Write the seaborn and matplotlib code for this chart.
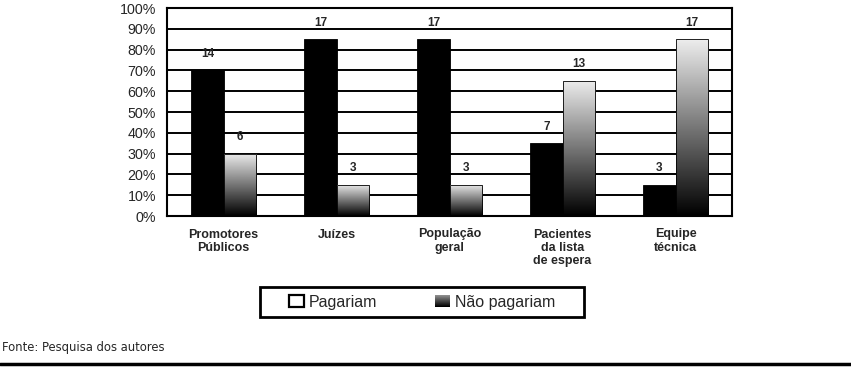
import os
import numpy as np
import pandas as pd
import matplotlib
matplotlib.use("Agg")
import matplotlib.pyplot as plt
import seaborn as sns
from matplotlib import font_manager as fm
from matplotlib.patches import Patch, Rectangle
from matplotlib.legend_handler import HandlerBase
from matplotlib.lines import Line2D

# ------------------------------------------------------------
# DATA
# ------------------------------------------------------------
categories = ["Promotores\nPúblicos", "Juízes", "População\ngeral",
              "Pacientes\nda lista\nde espera", "Equipe\ntécnica"]
pagariam_n = [14, 17, 17, 7, 3]
nao_pagariam_n = [6, 3, 3, 13, 17]
total_n = 20
series = ["Pagariam", "Não pagariam"]
y_ticks = [0, 10, 20, 30, 40, 50, 60, 70, 80, 90, 100]

df = pd.DataFrame({
    "grupo": categories * 2,
    "resposta": [series[0]] * len(categories) + [series[1]] * len(categories),
    "n": pagariam_n + nao_pagariam_n,
})
df["pct"] = df["n"] / total_n * 100


# ------------------------------------------------------------
# FONTS (pick by file so regular/bold/narrow don't get mixed up)
# ------------------------------------------------------------
def font_by_file(names, fallback_family, weight="normal", stretch="normal"):
    files = {os.path.basename(f.fname): f.fname for f in fm.fontManager.ttflist}
    for n in names:
        if n in files:
            return fm.FontProperties(fname=files[n])
    return fm.FontProperties(family=fallback_family, weight=weight,
                             stretch=stretch)


f_reg = font_by_file(["LiberationSans-Regular.ttf"], "DejaVu Sans")
f_bold = font_by_file(["LiberationSans-Bold.ttf"], "DejaVu Sans", "bold")
f_narrow = font_by_file(["LiberationSansNarrow-Regular.ttf",
                         "DejaVuSansCondensed.ttf",
                         "RobotoCondensed-Regular.ttf"],
                        "DejaVu Sans", stretch="condensed")

# ------------------------------------------------------------
# STYLE
# ------------------------------------------------------------
sns.set_style("white")
plt.rcParams["font.family"] = ["Liberation Sans", "DejaVu Sans"]

fig = plt.figure(figsize=(8.51, 3.69), dpi=100)
ax = fig.add_axes([167 / 851, 1 - 216 / 369, 565 / 851, 208 / 369])

sns.barplot(data=df, x="grupo", y="pct", hue="resposta", hue_order=series,
            order=categories, palette={series[0]: "black", series[1]: "white"},
            width=0.57, saturation=1, edgecolor="black", linewidth=0.6,
            legend=False, ax=ax)

# gradient fill for "Não pagariam" bars (light top -> black bottom)
grad = np.linspace(0.93, 0.0, 256)[:, None]
for bar in ax.containers[1]:
    x0, y0 = bar.get_x(), bar.get_y()
    w, h = bar.get_width(), bar.get_height()
    im = ax.imshow(grad, extent=[x0, x0 + w, y0, y0 + h], cmap="gray",
                   vmin=0, vmax=1, aspect="auto", origin="upper",
                   zorder=bar.get_zorder() + 0.1)
    im.set_clip_path(bar)
    bar.set_facecolor("none")
    bar.set_zorder(bar.get_zorder() + 0.2)

# value labels
for cont, counts in zip(ax.containers, [pagariam_n, nao_pagariam_n]):
    labs = ax.bar_label(cont, labels=[str(c) for c in counts], padding=7.5)
    for t in labs:
        t.set_fontproperties(f_bold)
        t.set_fontsize(8.5)

ax.set_xlim(-0.5, len(categories) - 0.5)
ax.set_ylim(0, 100)
ax.set_yticks(y_ticks)
ax.set_yticklabels([f"{v}%" for v in y_ticks])
ax.set_xticks(np.arange(-0.5, len(categories)), minor=True)
ax.tick_params(axis="x", which="major", length=0, pad=9)
ax.tick_params(axis="x", which="minor", length=4, width=1.2, direction="out")
ax.tick_params(axis="y", length=4, width=1.2, direction="out", pad=4)
for lab in ax.get_xticklabels():
    lab.set_fontproperties(f_bold)
    lab.set_fontsize(9)
    lab.set_linespacing(1.15)
for lab in ax.get_yticklabels():
    lab.set_fontproperties(f_reg)
    lab.set_fontsize(10.3)
ax.set_xlabel("")
ax.set_ylabel("")

ax.set_axisbelow(True)
ax.yaxis.grid(True, color="black", linewidth=1.4)
for sp in ax.spines.values():
    sp.set_visible(True)
    sp.set_color("black")
    sp.set_linewidth(1.5)


# legend with gradient swatch
class GradientHandler(HandlerBase):
    def create_artists(self, legend, orig_handle, xdescent, ydescent,
                       width, height, fontsize, trans):
        arts = []
        steps = 12
        for i in range(steps):
            g = 0.55 * (i / (steps - 1))
            arts.append(Rectangle((-xdescent, -ydescent + height * i / steps),
                                  width, height / steps, facecolor=str(g),
                                  edgecolor="none", transform=trans))
        return arts


leg_font = f_reg.copy()
leg_font.set_size(11.5)
h_white = Patch(facecolor="white", edgecolor="black", linewidth=1.6)
h_grad = Patch(facecolor="0.3")
leg = fig.legend([h_white, h_grad], series, loc="center",
                 bbox_to_anchor=(422 / 851, 1 - 302 / 369), ncol=2,
                 frameon=False, handlelength=0.95, handleheight=0.8,
                 handletextpad=0.3, columnspacing=3.6, prop=leg_font,
                 handler_map={h_grad: GradientHandler()})
# legend border box
fig.add_artist(Rectangle((260 / 851, 1 - 317 / 369), 324 / 851, 30 / 369,
                         transform=fig.transFigure, facecolor="none",
                         edgecolor="black", linewidth=2))

fonte_font = f_narrow.copy()
fonte_font.set_size(9.3)
fig.text(2 / 851, 1 - 347 / 369, "Fonte: Pesquisa dos autores",
         fontproperties=fonte_font, va="center", ha="left")
fig.add_artist(Line2D([0, 1], [1 - 364 / 369, 1 - 364 / 369],
                      color="black", linewidth=2.5, transform=fig.transFigure))

fig.savefig("out.png", dpi=100)
